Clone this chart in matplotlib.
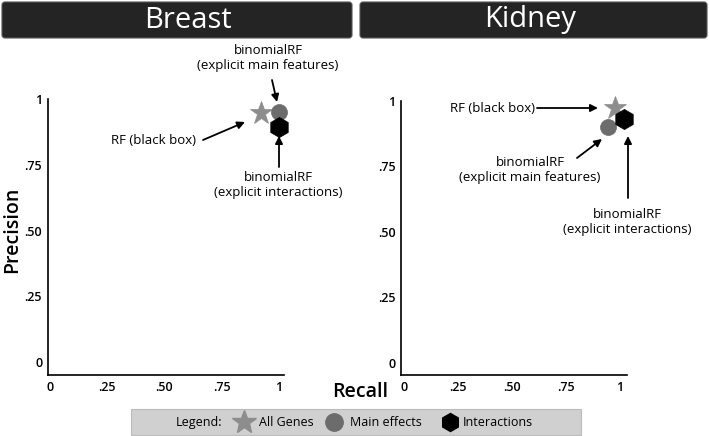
import matplotlib
matplotlib.use("Agg")
import matplotlib.pyplot as plt
import matplotlib.patches as mpatches
from matplotlib.lines import Line2D
from matplotlib.transforms import IdentityTransform

plt.rcParams['font.family'] = ['Open Sans', 'DejaVu Sans']

# data: order is RF (black box) star, main effects circle, interactions hexagon
panels = ['Breast', 'Kidney']
recall_breast = [0.92, 1.00, 1.00]
precision_breast = [0.947, 0.95, 0.894]
recall_kidney = [0.977, 0.944, 1.02]
precision_kidney = [0.973, 0.90, 0.931]
tick_vals = [0, 0.25, 0.5, 0.75, 1]
tick_labels = ['0', '.25', '.50', '.75', '1']
legend_labels = ['All Genes', 'Main effects', 'Interactions']

markers = ['*', 'o', 'h']
colors = ['#8d8d8d', '#6c6c6c', '#000000']
sizes = [17, 11.5, 14.5]
legend_sizes = [18, 12.5, 13]

W, H = 709, 436
fig = plt.figure(figsize=(W / 100, H / 100), dpi=100)


def fx(x):
    return x / W


def fy(y):
    return 1 - y / H


def make_ax(left, right, top, bottom, xlim, ylim):
    ax = fig.add_axes([fx(left), fy(bottom), (right - left) / W, (bottom - top) / H])
    ax.set_xlim(*xlim)
    ax.set_ylim(*ylim)
    for s in ['top', 'right']:
        ax.spines[s].set_visible(False)
    for s in ['left', 'bottom']:
        ax.spines[s].set_linewidth(1.2)
    ax.set_xticks(tick_vals, tick_labels)
    ax.set_yticks(tick_vals, tick_labels)
    ax.tick_params(length=0, labelsize=9, pad=4)
    for t in ax.get_xticklabels() + ax.get_yticklabels():
        t.set_fontweight('semibold')
    ax.patch.set_alpha(0)
    return ax


ax1 = make_ax(47.7, 283.6, 99, 375, (-0.01, 1.02), (-0.049, 1.0))
ax2 = make_ax(401, 627, 101, 375, (-0.014, 1.033), (-0.046, 1.0))

for ax, rec, prec in [(ax1, recall_breast, precision_breast),
                      (ax2, recall_kidney, precision_kidney)]:
    for r, p, m, c, s in zip(rec, prec, markers, colors, sizes):
        ax.plot([r], [p], marker=m, color=c, markersize=s, markeredgecolor=c,
                markeredgewidth=0.5, linestyle='none', clip_on=False, zorder=5)

# title bars
for (x0, x1, cx), name in zip([(2, 352, 188), (360, 707, 530)], panels):
    box = mpatches.FancyBboxPatch((x0, H - 38), x1 - x0, 36,
                                  boxstyle='round,pad=0,rounding_size=3',
                                  facecolor='#242424', edgecolor='#555555', lw=0.8,
                                  transform=IdentityTransform())
    fig.add_artist(box)
    fig.text(fx(cx), fy(20), name, color='white', fontsize=21,
             ha='center', va='center')

fig.text(fx(12), fy(230), 'Precision', rotation=90, fontsize=14,
         fontweight='semibold', ha='center', va='center')
fig.text(fx(360), fy(392), 'Recall', fontsize=14, fontweight='semibold',
         ha='center', va='center')

ann_fs = 9.5


def arrow(x0, y0, x1, y1):
    fig.add_artist(mpatches.FancyArrowPatch(
        (fx(x0), fy(y0)), (fx(x1), fy(y1)), transform=fig.transFigure,
        arrowstyle='-|>', mutation_scale=11, lw=1.3, color='black',
        shrinkA=0, shrinkB=0))


def label(x, y, s, ha='center'):
    fig.text(fx(x), fy(y), s, fontsize=ann_fs, ha=ha, va='center',
             linespacing=1.25, fontweight='medium')


# Breast annotations
label(268, 58, 'binomialRF\n(explicit main features)')
arrow(272, 80, 277, 102)
label(196, 140, 'RF (black box)', ha='right')
arrow(203, 140, 245, 122)
label(278, 185, 'binomialRF\n(explicit interactions)')
arrow(279, 167, 279, 136)

# Kidney annotations
label(450, 108, 'RF (black box)', ha='left')
arrow(537, 108, 598, 108)
label(530, 170, 'binomialRF\n(explicit main features)')
arrow(577, 158, 602, 139)
label(627, 222, 'binomialRF\n(explicit interactions)')
arrow(628, 198, 628, 136)

# legend bar
fig.add_artist(mpatches.Rectangle((131, H - 435), 450, 26, facecolor='#d0d0d0',
                                  edgecolor='#bbbbbb', lw=0.8,
                                  transform=IdentityTransform()))
fig.text(fx(176), fy(422), 'Legend:', fontsize=9, ha='left', va='center')
for mx, tx, lab, m, c, s in zip([244, 334, 450], [259, 350, 463], legend_labels,
                                markers, colors, legend_sizes):
    fig.add_artist(Line2D([fx(mx)], [fy(422)], marker=m, color=c, markersize=s,
                          markeredgecolor=c, linestyle='none',
                          transform=fig.transFigure))
    fig.text(fx(tx), fy(422), lab, fontsize=9, ha='left', va='center')

fig.savefig('out.png', dpi=100)
